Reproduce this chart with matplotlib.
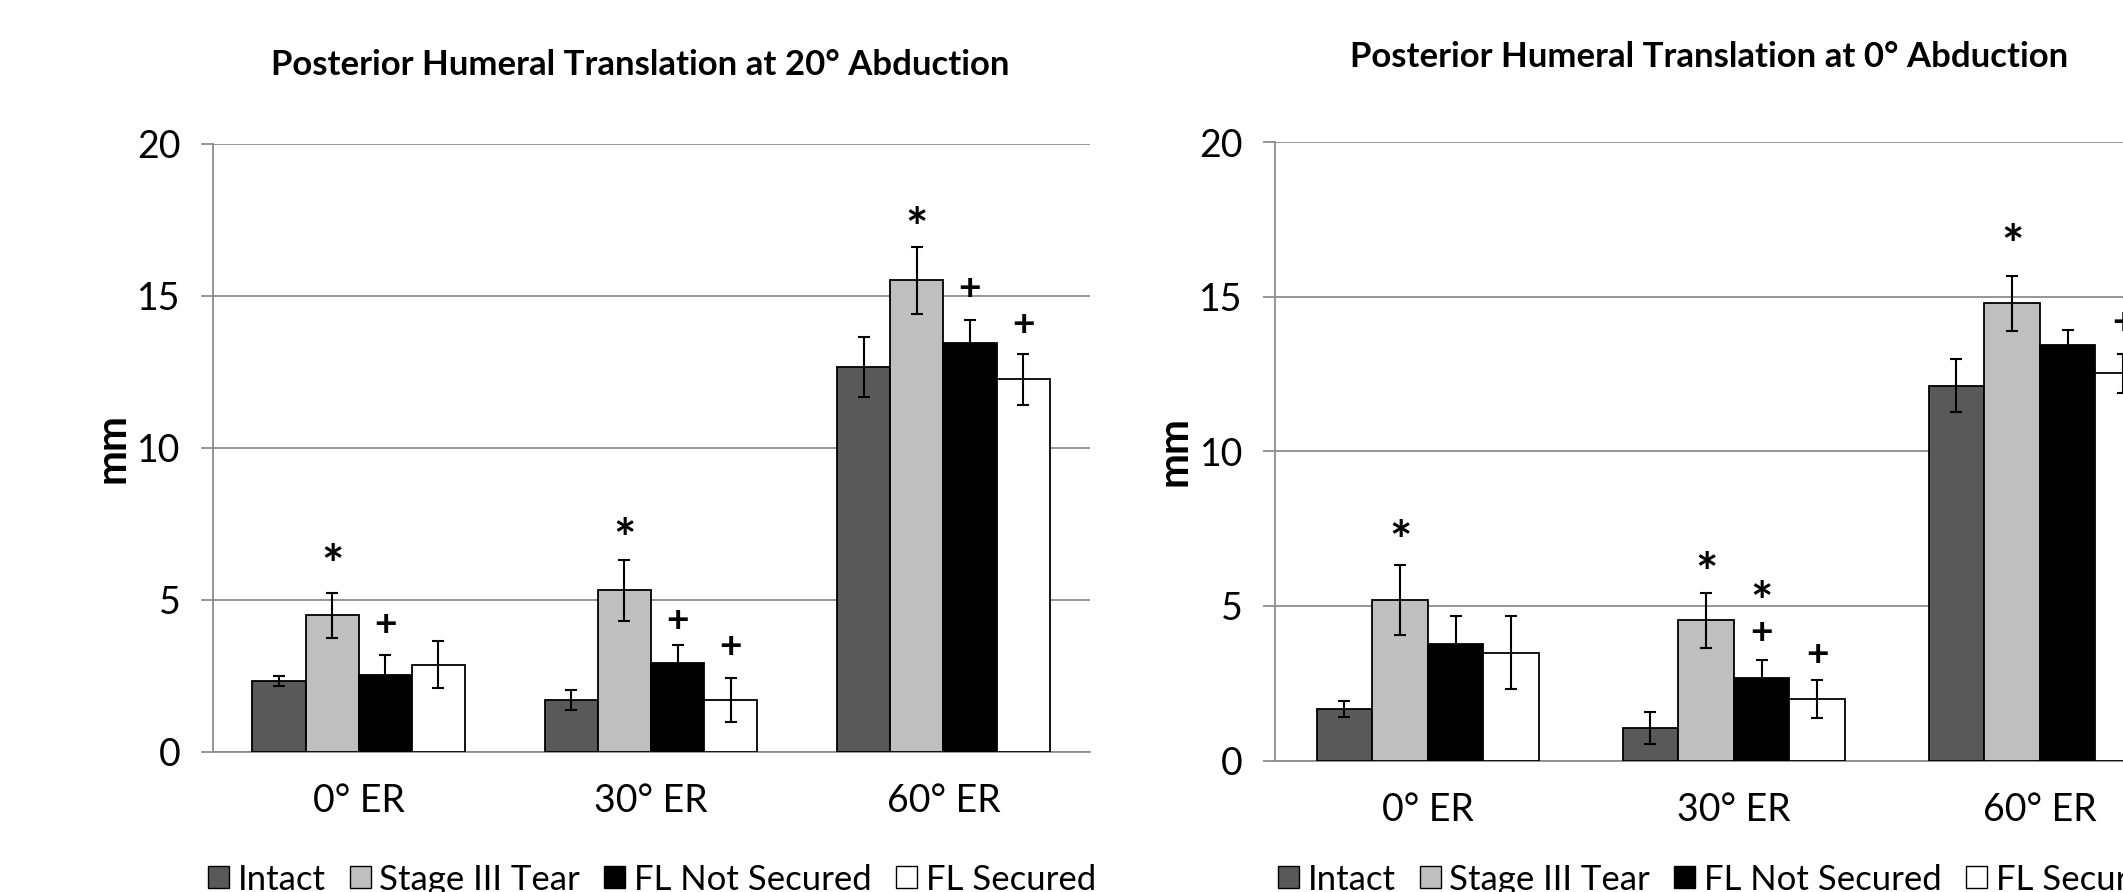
import matplotlib
matplotlib.use("Agg")
import matplotlib.pyplot as plt
import numpy as np
from matplotlib.patches import Patch

plt.rcParams['font.family'] = ['Lato', 'DejaVu Sans']

categories = ["0° ER", "30° ER", "60° ER"]
series = ["Intact", "Stage III Tear", "FL Not Secured", "FL Secured"]
colors = ["#595959", "#bfbfbf", "#000000", "#ffffff"]

# Left chart: 20° abduction
abd20_intact = [2.32, 1.69, 12.65]
abd20_stage3 = [4.48, 5.30, 15.50]
abd20_fl_not = [2.51, 2.91, 13.44]
abd20_fl_sec = [2.85, 1.69, 12.24]
abd20_intact_err = [0.17, 0.32, 0.98]
abd20_stage3_err = [0.75, 1.00, 1.10]
abd20_fl_not_err = [0.68, 0.60, 0.75]
abd20_fl_sec_err = [0.77, 0.73, 0.85]

# Right chart: 0° abduction
abd0_intact = [1.66, 1.05, 12.12]
abd0_stage3 = [5.19, 4.53, 14.79]
abd0_fl_not = [3.77, 2.67, 13.45]
abd0_fl_sec = [3.48, 2.00, 12.53]
abd0_intact_err = [0.26, 0.52, 0.86]
abd0_stage3_err = [1.12, 0.90, 0.89]
abd0_fl_not_err = [0.92, 0.59, 0.47]
abd0_fl_sec_err = [1.18, 0.61, 0.63]

# significance markers: (category index, series index, symbol, y of symbol centre)
abd20_marks = [(0, 1, "*", 6.47), (0, 2, "+", 4.22),
               (1, 1, "*", 7.35), (1, 2, "+", 4.35), (1, 3, "+", 3.50),
               (2, 1, "*", 17.58), (2, 2, "+", 15.28), (2, 3, "+", 14.10)]
abd0_marks = [(0, 1, "*", 7.43),
              (1, 1, "*", 6.42), (1, 2, "*", 5.46), (1, 2, "+", 4.18), (1, 3, "+", 3.48),
              (2, 1, "*", 17.02), (2, 3, "+", 14.20)]

FS = 27
W = 1 / 5.5
STAR_FS = 38
PLUS_FS = 28

fig = plt.figure(figsize=(21.23, 8.92), dpi=100)


def draw(ax, vals, errs, marks, title, title_y, legend_x):
    x = np.arange(len(categories))
    for i, (v, e, c, name) in enumerate(zip(vals, errs, colors, series)):
        xs = x + (i - 1.5) * W
        ax.bar(xs, v, width=W, color=c, edgecolor="black", linewidth=1.3, zorder=3, label=name)
        ax.errorbar(xs, v, yerr=e, fmt="none", ecolor="black", elinewidth=1.5,
                    capsize=4, capthick=1.5, zorder=4)
    for ci, si, sym, y in marks:
        xp = ci + (si - 1.5) * W
        if sym == "*":
            ax.annotate(sym, (xp, y), xytext=(0, -0.56 * STAR_FS), textcoords="offset points",
                        ha="center", va="baseline", fontsize=STAR_FS, fontweight="bold", zorder=5)
        else:
            ax.annotate(sym, (xp, y), xytext=(0, -0.33 * PLUS_FS), textcoords="offset points",
                        ha="center", va="baseline", fontsize=PLUS_FS, fontweight="bold", zorder=5)
    ax.set_xlim(-0.5, 2.5)
    ax.set_ylim(0, 20)
    ax.set_yticks([0, 5, 10, 15, 20])
    ax.set_xticks(x)
    ax.set_xticklabels(categories)
    ax.yaxis.grid(True, color="#8c8c8c", linewidth=1.3, zorder=0)
    ax.set_axisbelow(True)
    for s in ["top", "right"]:
        ax.spines[s].set_visible(False)
    ax.spines["left"].set_color("#8c8c8c")
    ax.spines["bottom"].set_color("#8c8c8c")
    ax.spines["left"].set_linewidth(1.3)
    ax.spines["bottom"].set_linewidth(1.3)
    ax.tick_params(axis="y", direction="out", length=9, width=1.3, color="#8c8c8c",
                   pad=14, labelsize=FS)
    ax.tick_params(axis="x", length=0, pad=23, labelsize=FS)
    ax.set_ylabel("mm", fontsize=30, fontweight="bold", labelpad=4)
    fig.text(title[1], title_y, title[0], ha="center", va="center",
             fontsize=25, fontweight="bold")
    handles = [Patch(facecolor=c, edgecolor="black", linewidth=1.0) for c in colors]
    fig.legend(handles, series, loc="center left", bbox_to_anchor=(legend_x, 0.014),
               ncol=4, frameon=False, fontsize=25, handlelength=0.6, handleheight=0.6,
               handletextpad=0.25, columnspacing=0.7, borderaxespad=0, borderpad=0)


ax1 = fig.add_axes([0.1001, 0.1575, 0.4131, 0.6816])
draw(ax1,
     [abd20_intact, abd20_stage3, abd20_fl_not, abd20_fl_sec],
     [abd20_intact_err, abd20_stage3_err, abd20_fl_not_err, abd20_fl_sec_err],
     abd20_marks, ("Posterior Humeral Translation at 20° Abduction", 0.3015), 0.927, 0.098)

ax2 = fig.add_axes([0.6005, 0.1474, 0.4324, 0.6932])
draw(ax2,
     [abd0_intact, abd0_stage3, abd0_fl_not, abd0_fl_sec],
     [abd0_intact_err, abd0_stage3_err, abd0_fl_not_err, abd0_fl_sec_err],
     abd0_marks, ("Posterior Humeral Translation at 0° Abduction", 0.805), 0.936, 0.602)

fig.savefig("out.png", dpi=100)
